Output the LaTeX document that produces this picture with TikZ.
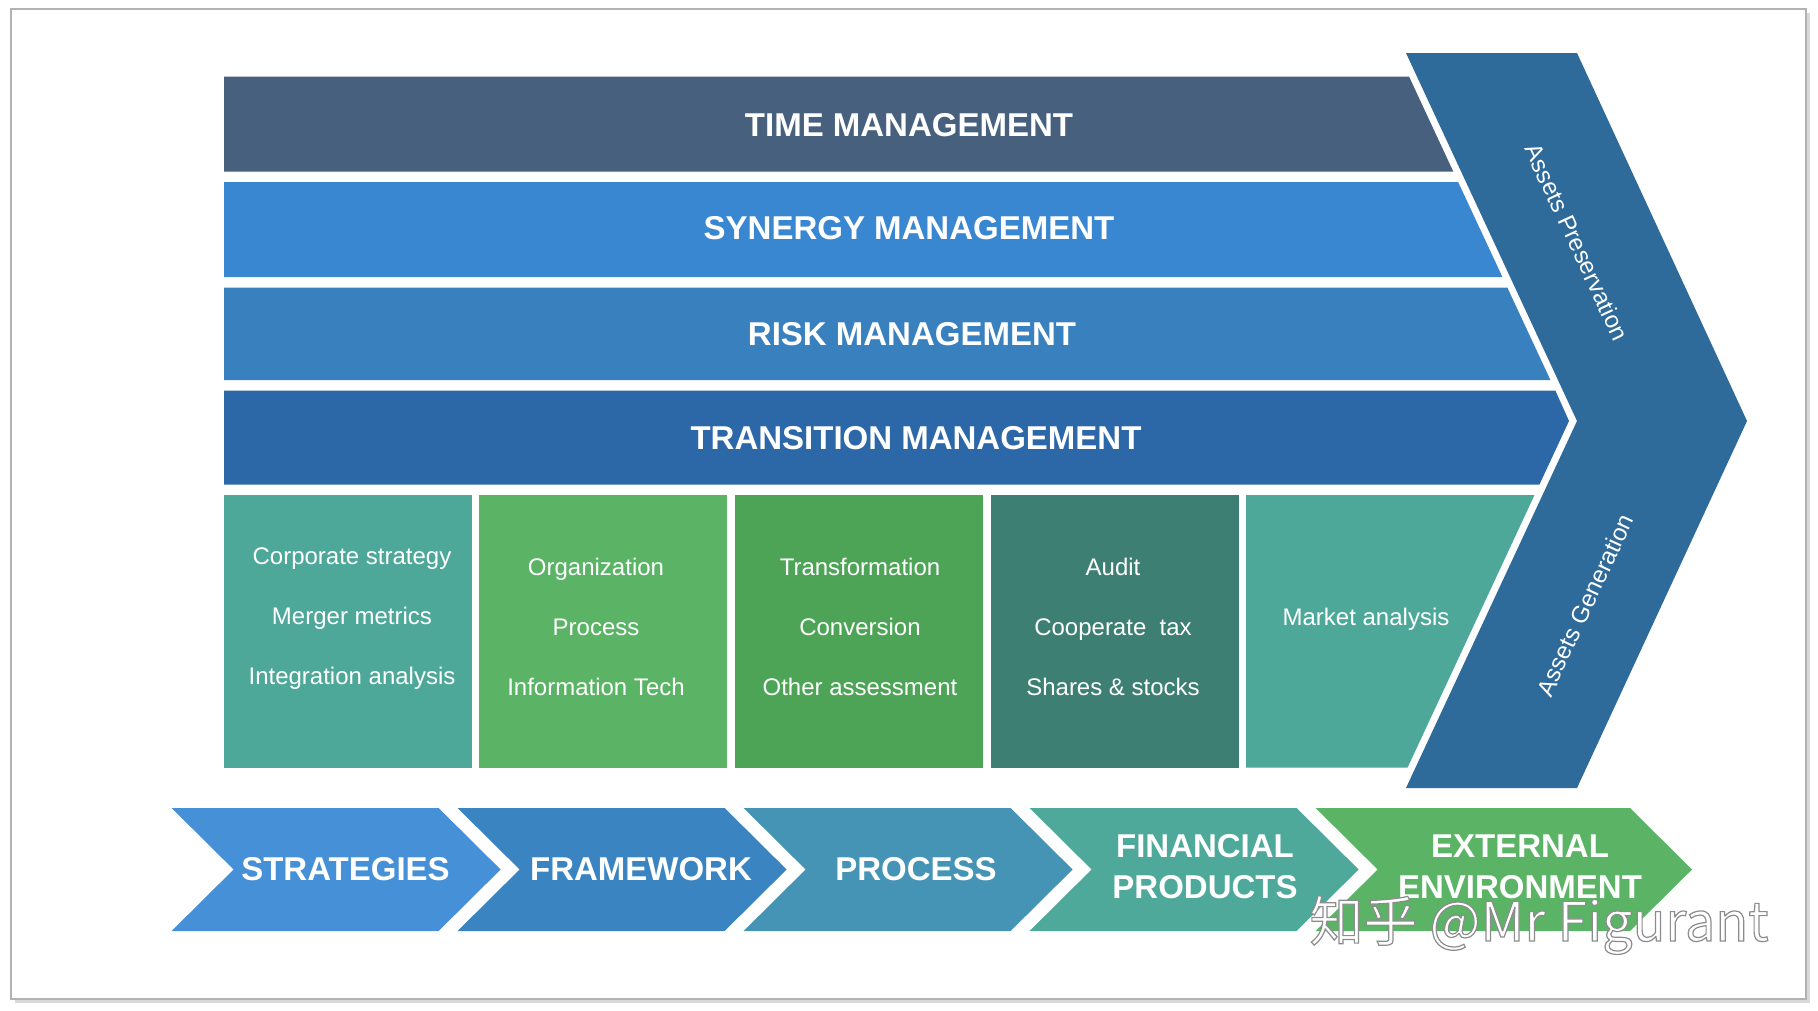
\documentclass[tikz,border=0pt]{standalone}
\usepackage{fontspec}
\setmainfont{Liberation Sans}
\newfontfamily\cjkfont{Noto Sans CJK SC}
\definecolor{cTime}{RGB}{70,96,126}
\definecolor{cSyn}{RGB}{58,135,209}
\definecolor{cRisk}{RGB}{57,128,190}
\definecolor{cTrans}{RGB}{44,103,168}
\definecolor{cBig}{RGB}{46,106,154}
\definecolor{cTeal}{RGB}{78,168,154}
\definecolor{cGreenA}{RGB}{91,180,102}
\definecolor{cGreenB}{RGB}{77,164,87}
\definecolor{cDark}{RGB}{61,128,115}
\definecolor{cStr}{RGB}{69,144,214}
\definecolor{cFrm}{RGB}{58,132,194}
\definecolor{cPrc}{RGB}{69,148,181}
\definecolor{cFin}{RGB}{78,169,155}
\definecolor{cExt}{RGB}{91,180,102}
\begin{document}
\begin{tikzpicture}[x=1pt,y=-1pt,
  bandtext/.style={font=\fontsize{33}{40}\selectfont\bfseries, text=white},
  itemtext/.style={font=\fontsize{24}{60}\selectfont, text=white, align=center},
  chevtext/.style={font=\fontsize{33}{41}\selectfont\bfseries, text=white, align=center},
  sidetext/.style={font=\fontsize{24}{28}\selectfont, text=white}]
\useasboundingbox (0,0) rectangle (1818,1010);
% frame
\fill[black!15] (15,13) rectangle (1810,1003);
\fill[white] (11,9) rectangle (1806,999);
\draw[black!30, line width=1.2pt] (11,9) rectangle (1806,999);
% big chevron
\fill[cBig] (1406,53) -- (1577,53) -- (1747,421) -- (1577,788) -- (1406,788) -- (1577,421) -- cycle;
\node[sidetext, rotate=-65, inner sep=0pt] (pres) at (1577,242) {Assets Preservation};
\node[sidetext, rotate=65, inner sep=0pt] (gen) at (1585,605) {Assets Generation};
% bands
\fill[cTime] (224,76.5) -- (1409,76.5) -- (1453.3,171.6) -- (224,171.6) -- cycle;
\node[bandtext] (time) at (909,125) {TIME MANAGEMENT};
\fill[cSyn] (224,182) -- (1458.1,182) -- (1502.4,277) -- (224,277) -- cycle;
\node[bandtext] (syn) at (909,228) {SYNERGY MANAGEMENT};
\fill[cRisk] (224,287.5) -- (1507.3,287.5) -- (1550.4,380) -- (224,380) -- cycle;
\node[bandtext] (risk) at (912,334) {RISK MANAGEMENT};
\fill[cTrans] (224,390.7) -- (1555.4,390.7) -- (1569,421) -- (1539.4,484.6) -- (224,484.6) -- cycle;
\node[bandtext] (trans) at (916,438) {TRANSITION MANAGEMENT};
% boxes
\fill[cTeal] (224,495) rectangle (472,767.5);
\node[itemtext] (b1) at (352,619) {Corporate strategy\\Merger metrics\\Integration analysis};
\fill[cGreenA] (479,495) rectangle (727,767.5);
\node[itemtext] (b2) at (596,627) {Organization\\Process\\Information Tech};
\fill[cGreenB] (735,495) rectangle (983,767.5);
\node[itemtext] (b3) at (860,627) {Transformation\\Conversion\\Other assessment};
\fill[cDark] (991,495) rectangle (1239,767.5);
\node[itemtext] (b4) at (1113,627) {Audit\\Cooperate\ \ tax\\Shares \& stocks};
\fill[cTeal] (1246,495) -- (1534.5,495) -- (1407.6,767.5) -- (1246,767.5) -- cycle;
\node[itemtext] (b5) at (1366,619) {Market analysis};
% bottom chevrons
\fill[cStr] (171.6,808) -- (438.6,808) -- (500.6,869.5) -- (438.6,931) -- (171.6,931) -- (233.6,869.5) -- cycle;
\node[chevtext] (c1) at (345.5,869.5) {STRATEGIES};
\fill[cFrm] (457.6,808) -- (724.6,808) -- (786.6,869.5) -- (724.6,931) -- (457.6,931) -- (519.6,869.5) -- cycle;
\node[chevtext] (c2) at (641,869.5) {FRAMEWORK};
\fill[cPrc] (743.6,808) -- (1010.6,808) -- (1072.6,869.5) -- (1010.6,931) -- (743.6,931) -- (805.6,869.5) -- cycle;
\node[chevtext] (c3) at (916,869.5) {PROCESS};
\fill[cFin] (1029.6,808) -- (1296.6,808) -- (1358.6,869.5) -- (1296.6,931) -- (1029.6,931) -- (1091.6,869.5) -- cycle;
\node[chevtext] (c4) at (1205,866.5) {FINANCIAL\\PRODUCTS};
\fill[cExt] (1315.6,808) -- (1630,808) -- (1692,869.5) -- (1630,931) -- (1315.6,931) -- (1377.6,869.5) -- cycle;
\node[chevtext] (c5) at (1520,866.5) {EXTERNAL\\ENVIRONMENT};
% watermark
\node[font=\cjkfont\fontsize{54}{60}\selectfont, text=white] (wm) at (1539,925) {\special{pdf:literal direct 2 Tr 1.2 w 0.55 G}知乎 @Mr Figurant\special{pdf:literal direct 0 Tr}};
\end{tikzpicture}
\end{document}
